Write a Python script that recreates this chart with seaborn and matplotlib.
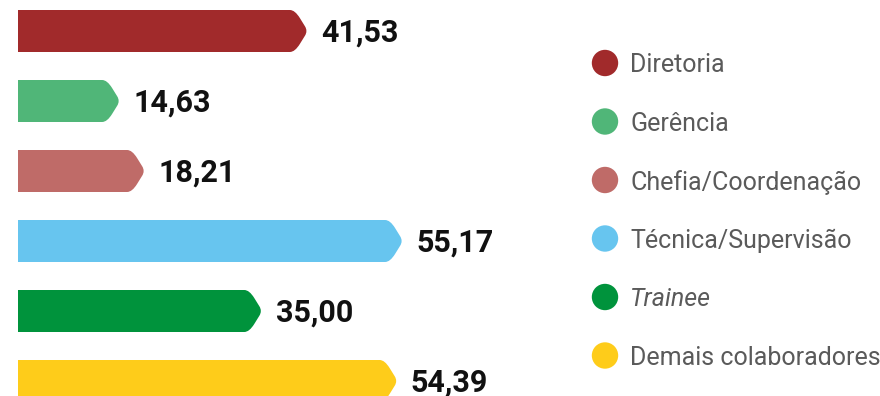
import matplotlib
matplotlib.use("Agg")
import matplotlib.pyplot as plt
from matplotlib.path import Path
from matplotlib.patches import PathPatch
import seaborn as sns
import pandas as pd

categories = ["Diretoria", "Gerência", "Chefia/Coordenação",
              "Técnica/Supervisão", "Trainee", "Demais colaboradores"]
values = [41.53, 14.63, 18.21, 55.17, 35.00, 54.39]
colors = ["#A12A2B", "#50B678", "#BF6B68", "#67C5EF", "#00933C", "#FECC1A"]

df = pd.DataFrame({"categoria": categories, "valor": values})

sns.set_theme(style="white")
plt.rcParams["font.family"] = ["Roboto", "DejaVu Sans"]

W, H = 880, 396
fig = plt.figure(figsize=(W / 100, H / 100), dpi=100)

# main bar axes: x = 0 at 18 px, ~6.98 px per unit; rows 70 px apart
px_per_unit = 6.98
ax_w = 560
ax = fig.add_axes([18 / W, -20 / H, ax_w / W, 420 / H])
sns.barplot(data=df, x="valor", y="categoria", hue="categoria",
            palette=colors, orient="h", width=0.6, legend=False,
            saturation=1, ax=ax)
ax.set_xlim(0, ax_w / px_per_unit)
ax.set_ylim(5.5, -0.5)
ax.axis("off")

# turn every rectangle into a tag shape pointing right
tip = 13 / px_per_unit
rc = 0.38
rt = 0.22
for patch, col in zip(list(ax.patches), colors):
    x0 = patch.get_x()
    w = patch.get_width()
    y0 = patch.get_y()
    h = patch.get_height()
    x1 = x0 + w
    y1 = y0 + h
    yc = y0 + h / 2
    xs = x1 - tip
    verts = [
        (x0, y0),
        (xs - rc * tip, y0),
        (xs, y0), (xs + rc * tip, y0 + rc * (yc - y0)),
        (x1 - rt * tip, yc - rt * (yc - y0)),
        (x1, yc), (x1 - rt * tip, yc + rt * (y1 - yc)),
        (xs + rc * tip, y1 - rc * (y1 - yc)),
        (xs, y1), (xs - rc * tip, y1),
        (x0, y1),
        (x0, y0),
    ]
    codes = [Path.MOVETO, Path.LINETO,
             Path.CURVE3, Path.CURVE3,
             Path.LINETO,
             Path.CURVE3, Path.CURVE3,
             Path.LINETO,
             Path.CURVE3, Path.CURVE3,
             Path.LINETO, Path.CLOSEPOLY]
    ax.add_patch(PathPatch(Path(verts, codes), facecolor=col,
                           edgecolor="none", lw=0))
    patch.set_visible(False)

    ax.text(x1 + 1.9, yc - 0.02, f"{w:.2f}".replace(".", ","),
            va="center_baseline", ha="left", fontsize=22,
            fontweight="bold", color="#111111", family=["Roboto", "DejaVu Sans"])

# legend drawn in a pixel-coordinate overlay
lax = fig.add_axes([0, 0, 1, 1])
lax.set_xlim(0, W)
lax.set_ylim(H, 0)
lax.axis("off")
lax.patch.set_alpha(0)
for i, (cat, col) in enumerate(zip(categories, colors)):
    y = 63 + i * 58.5
    lax.scatter([605], [y], s=(19) ** 2, color=col, edgecolor="none")
    lax.text(630, y, cat, va="center_baseline", ha="left", fontsize=18,
             fontweight="normal", color="#5a5a5a",
             style="italic" if cat == "Trainee" else "normal",
             family=["Roboto", "DejaVu Sans"])

fig.savefig("out.png", dpi=100)
